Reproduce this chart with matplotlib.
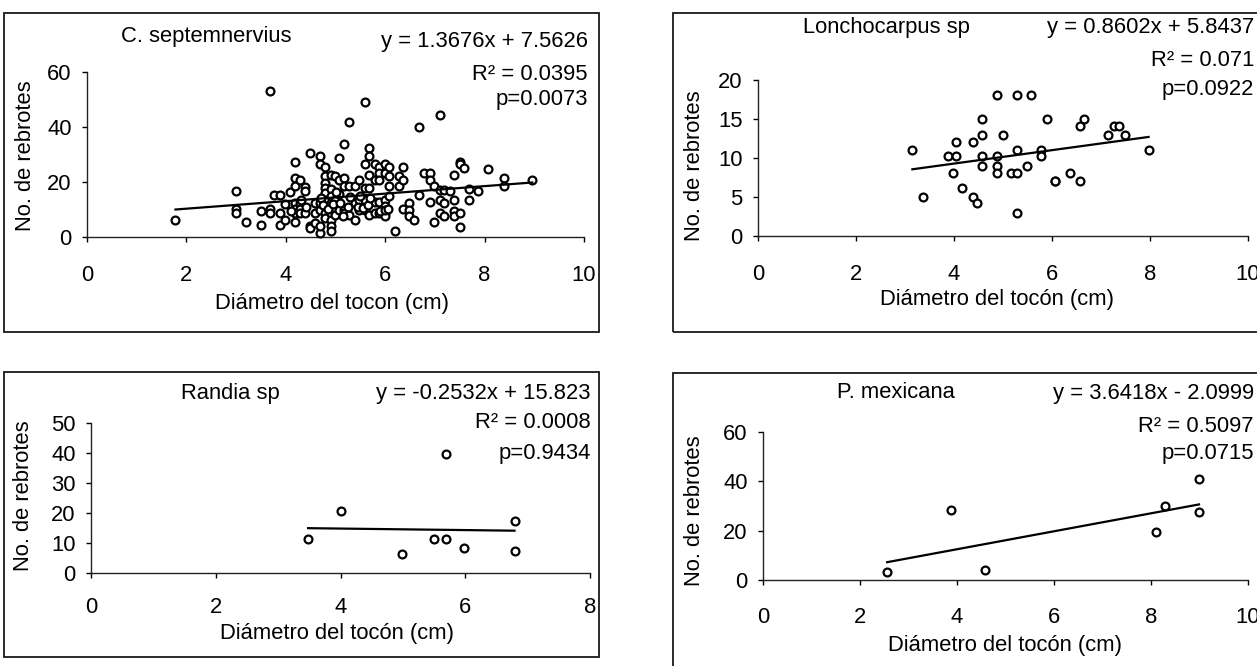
"""
Numero de rebrotes vs diametro del tocon, four species panels.
"""

import matplotlib

matplotlib.use("Agg")

import matplotlib.pyplot as plt
from matplotlib.patches import Rectangle
import numpy as np

plt.rcParams["font.family"] = ["Liberation Sans", "DejaVu Sans"]
plt.rcParams["font.size"] = 15.8

FIG_W = 1257
FIG_H = 666

# C. septemnervius
cs_x = [
    1.78, 3.0, 3.0, 3.0, 3.2, 3.5, 3.5, 3.69, 3.69, 3.69, 3.77, 3.88, 3.88, 3.88,
    3.98, 3.98, 4.08, 4.18, 4.18, 4.18, 4.18, 4.18, 4.18, 4.18, 4.28, 4.28, 4.28,
    4.28, 4.38, 4.38, 4.38, 4.49, 4.49, 4.49, 4.59, 4.59, 4.59, 4.69, 4.69, 4.69,
    4.69, 4.69, 4.69, 4.78, 4.78, 4.78, 4.78, 4.78, 4.78, 4.78, 4.78, 4.78, 4.9,
    4.9, 4.9, 4.9, 4.9, 4.9, 4.9, 4.9, 4.99, 4.99, 4.99, 4.99, 5.07, 5.07, 5.07,
    5.07, 5.18, 5.18, 5.18, 5.18, 5.18, 5.27, 5.27, 5.27, 5.39, 5.39, 5.39, 5.47,
    5.47, 5.47, 5.59, 5.59, 5.59, 5.59, 5.59, 5.67, 5.67, 5.67, 5.67, 5.67, 5.79,
    5.79, 5.79, 5.79, 5.88, 5.88, 5.88, 5.88, 5.88, 5.99, 5.99, 5.99, 5.99, 5.99,
    5.99, 6.07, 6.07, 6.07, 6.07, 6.2, 6.28, 6.28, 6.36, 6.36, 6.36, 6.47, 6.47,
    6.47, 6.58, 6.69, 6.69, 6.78, 6.9, 6.9, 6.9, 6.98, 6.98, 7.1, 7.1, 7.1, 7.1,
    7.18, 7.18, 7.18, 7.3, 7.38, 7.38, 7.38, 7.38, 7.5, 7.5, 7.5, 7.5, 7.58, 7.68,
    7.68, 7.86, 8.06, 8.4, 8.4, 8.96,
    4.7, 4.75, 4.85, 4.95, 5.0, 5.1, 5.25, 5.3, 5.45, 5.55, 5.65, 5.9, 6.0, 4.4,
    4.1, 4.3, 5.15, 5.5, 5.7, 6.05,
]
cs_y = [
    6.0, 16.8, 10.2, 8.7, 5.3, 9.3, 4.4, 53.2, 10.2, 8.7, 15.2, 15.2, 8.7, 4.4,
    12.1, 6.3, 16.2, 27.2, 21.4, 18.4, 12.3, 10.2, 8.7, 5.3, 20.8, 12.3, 10.2,
    8.7, 18.1, 16.9, 8.7, 30.5, 3.9, 3.3, 12.3, 8.7, 5.1, 29.3, 26.5, 1.5,
    3.9, 9.9, 12.3, 25.6, 22.0, 19.8, 17.8, 16.0, 13.5, 11.1, 8.7, 6.9, 22.6,
    17.4, 14.8, 12.3, 8.7, 6.3, 3.9, 2.1, 22.0, 13.5, 10.5, 8.1, 28.7, 20.8, 15.5,
    9.9, 33.7, 21.4, 18.4, 9.9, 8.7, 41.7, 18.4, 8.1, 18.4, 12.3, 6.3, 20.8,
    13.5, 9.9, 49.0, 26.5, 17.8, 13.5, 9.9, 32.3, 29.3, 22.6, 17.8, 8.1, 26.5,
    20.8, 12.9, 8.7, 25.6, 23.2, 20.8, 12.9, 8.7, 26.5, 23.2, 13.5, 11.1, 8.7,
    7.5, 25.6, 22.0, 18.4, 14.8, 2.1, 22.0, 18.4, 25.6, 20.8, 10.2, 12.3, 9.9,
    7.7, 6.3, 40.1, 15.4, 23.2, 23.2, 20.8, 12.9, 18.4, 5.3, 44.4, 17.2, 13.5, 8.7,
    17.2, 12.3, 7.7, 16.6, 22.6, 13.5, 9.3, 7.7, 27.4, 26.6, 8.7, 3.5, 25.0, 17.4,
    13.5, 16.8, 24.8, 21.6, 18.4, 20.8,
    14.0, 11.5, 10.0, 12.0, 16.5, 12.5, 11.0, 14.5, 11.0, 10.5, 11.5, 9.5, 9.8, 11.0,
    9.5, 13.5, 7.5, 15.0, 14.0, 10.0,
]

# Lonchocarpus sp
lo_x = [
    3.15, 3.36, 3.88, 4.05, 3.97, 4.05, 4.17, 4.38, 4.38, 4.47, 4.58, 4.58, 4.58,
    4.58, 4.87, 4.87, 4.87, 4.87, 5.0, 5.16, 5.28, 5.28, 5.28, 5.28, 5.48, 5.57,
    5.77, 5.77, 5.89, 6.06, 6.07, 6.37, 6.58, 6.58, 6.66, 7.15, 7.26, 7.37, 7.49,
    7.97,
]
lo_y = [
    11.0, 5.0, 10.2, 10.2, 8.1, 12.1, 6.2, 12.1, 5.0, 4.2, 15.0, 13.0, 10.2,
    9.0, 18.1, 10.2, 9.0, 8.1, 13.0, 8.1, 18.1, 11.0, 8.1, 3.0, 9.0, 18.1,
    11.0, 10.2, 15.0, 7.1, 7.0, 8.1, 14.1, 7.1, 15.0, 13.0, 14.1, 14.1, 13.0,
    11.0,
]

# Randia sp
ra_x = [3.48, 4.0, 4.98, 5.5, 5.69, 5.69, 5.98, 6.79, 6.79]
ra_y = [11.2, 20.8, 6.5, 11.2, 11.2, 39.7, 8.5, 17.4, 7.3]

# P. mexicana
pm_x = [2.56, 3.88, 4.57, 8.1, 8.29, 8.99, 8.99]
pm_y = [3.25, 28.2, 4.1, 19.4, 30.2, 40.9, 27.4]

species = ["C. septemnervius", "Lonchocarpus sp", "Randia sp", "P. mexicana"]
slopes = [1.3676, 0.8602, -0.2532, 3.6418]
intercepts = [7.5626, 5.8437, 15.823, -2.0999]
equations = [
    "y = 1.3676x + 7.5626",
    "y = 0.8602x + 5.8437",
    "y = -0.2532x + 15.823",
    "y = 3.6418x - 2.0999",
]
r2_labels = ["R² = 0.0395", "R² = 0.071", "R² = 0.0008", "R² = 0.5097"]
p_labels = ["p=0.0073", "p=0.0922", "p=0.9434", "p=0.0715"]
x_labels = [
    "Diámetro del tocon (cm)",
    "Diámetro del tocón (cm)",
    "Diámetro del tocón (cm)",
    "Diámetro del tocón (cm)",
]
x_ticks = [
    [0, 2, 4, 6, 8, 10],
    [0, 2, 4, 6, 8, 10],
    [0, 2, 4, 6, 8],
    [0, 2, 4, 6, 8, 10],
]
y_ticks = [
    [0, 20, 40, 60],
    [0, 5, 10, 15, 20],
    [0, 10, 20, 30, 40, 50],
    [0, 20, 40, 60],
]

# layout in reference pixels
# axes: (left, right, y of zero, y of top), box: (left, top, right, bottom)
LAYOUT = [
    dict(axes=(87, 584, 237, 72), box=(4, 13, 599, 332), title=(206, 37),
         eq=(588, 42, 75, 100), ylab=(26, 156), xlab=(332, 303), tickpad=23),
    dict(axes=(758, 1248, 236, 80), box=(673, 13, 1300, 332), title=(886, 27),
         eq=(1254, 27, 60, 90), ylab=(695, 166), xlab=(997, 300), tickpad=23),
    dict(axes=(91, 590, 573, 423), box=(4, 372, 599, 657), title=(230, 393),
         eq=(591, 393, 422, 453), ylab=(24, 496), xlab=(337, 633), tickpad=19),
    dict(axes=(763, 1248, 580, 432), box=(673, 373, 1300, 700), title=(896, 393),
         eq=(1254, 393, 426, 453), ylab=(695, 511), xlab=(1005, 645), tickpad=22),
]


def to_axes(rect, px, py):
    left, right, y0, y1 = rect
    return (px - left) / (right - left), (y0 - py) / (y0 - y1)


def draw_panel(fig, i, xs, ys):
    lay = LAYOUT[i]
    left, right, y0, y1 = lay["axes"]

    bl, bt, br, bb = lay["box"]
    fig.add_artist(
        Rectangle(
            (bl / FIG_W, 1 - bb / FIG_H),
            (br - bl) / FIG_W,
            (bb - bt) / FIG_H,
            transform=fig.transFigure,
            fill=False,
            edgecolor="#1a1a1a",
            linewidth=1.3,
        )
    )

    ax = fig.add_axes(
        [left / FIG_W, 1 - y0 / FIG_H, (right - left) / FIG_W, (y0 - y1) / FIG_H]
    )
    ax.patch.set_visible(False)

    ax.scatter(
        xs,
        ys,
        s=32,
        facecolors="white",
        edgecolors="black",
        linewidths=1.6,
        zorder=3,
        clip_on=False,
    )

    fx = np.array([min(xs), max(xs)])
    ax.plot(
        fx,
        slopes[i] * fx + intercepts[i],
        color="black",
        linewidth=1.6,
        zorder=4,
    )

    ax.set_xlim(x_ticks[i][0], x_ticks[i][-1])
    ax.set_ylim(y_ticks[i][0], y_ticks[i][-1])
    ax.set_xticks(x_ticks[i])
    ax.set_yticks(y_ticks[i])

    for side in ["top", "right"]:
        ax.spines[side].set_visible(False)
    for side in ["left", "bottom"]:
        ax.spines[side].set_color("#222222")
        ax.spines[side].set_linewidth(1.0)

    ax.tick_params(
        axis="x",
        direction="out",
        length=3.6,
        width=1.0,
        pad=lay["tickpad"] * 0.72,
    )
    ax.tick_params(
        axis="y",
        direction="out",
        length=3.6,
        width=1.0,
        pad=7.5,
    )

    ax.set_xlabel(x_labels[i], va="center")
    ax.xaxis.set_label_coords(*to_axes(lay["axes"], *lay["xlab"]))
    ax.set_ylabel("No. de rebrotes", va="center")
    ax.yaxis.set_label_coords(*to_axes(lay["axes"], *lay["ylab"]))

    ax.text(
        *to_axes(lay["axes"], *lay["title"]),
        species[i],
        transform=ax.transAxes,
        ha="center",
        va="center",
    )

    ex, ey1, ey2, ey3 = lay["eq"]
    for label, ey in zip([equations[i], r2_labels[i], p_labels[i]], [ey1, ey2, ey3]):
        ax.text(
            *to_axes(lay["axes"], ex, ey),
            label,
            transform=ax.transAxes,
            ha="right",
            va="center",
        )

    return ax


fig = plt.figure(figsize=(FIG_W / 100, FIG_H / 100), dpi=100)

draw_panel(fig, 0, cs_x, cs_y)
draw_panel(fig, 1, lo_x, lo_y)
draw_panel(fig, 2, ra_x, ra_y)
draw_panel(fig, 3, pm_x, pm_y)

fig.savefig("out.png", dpi=100)
